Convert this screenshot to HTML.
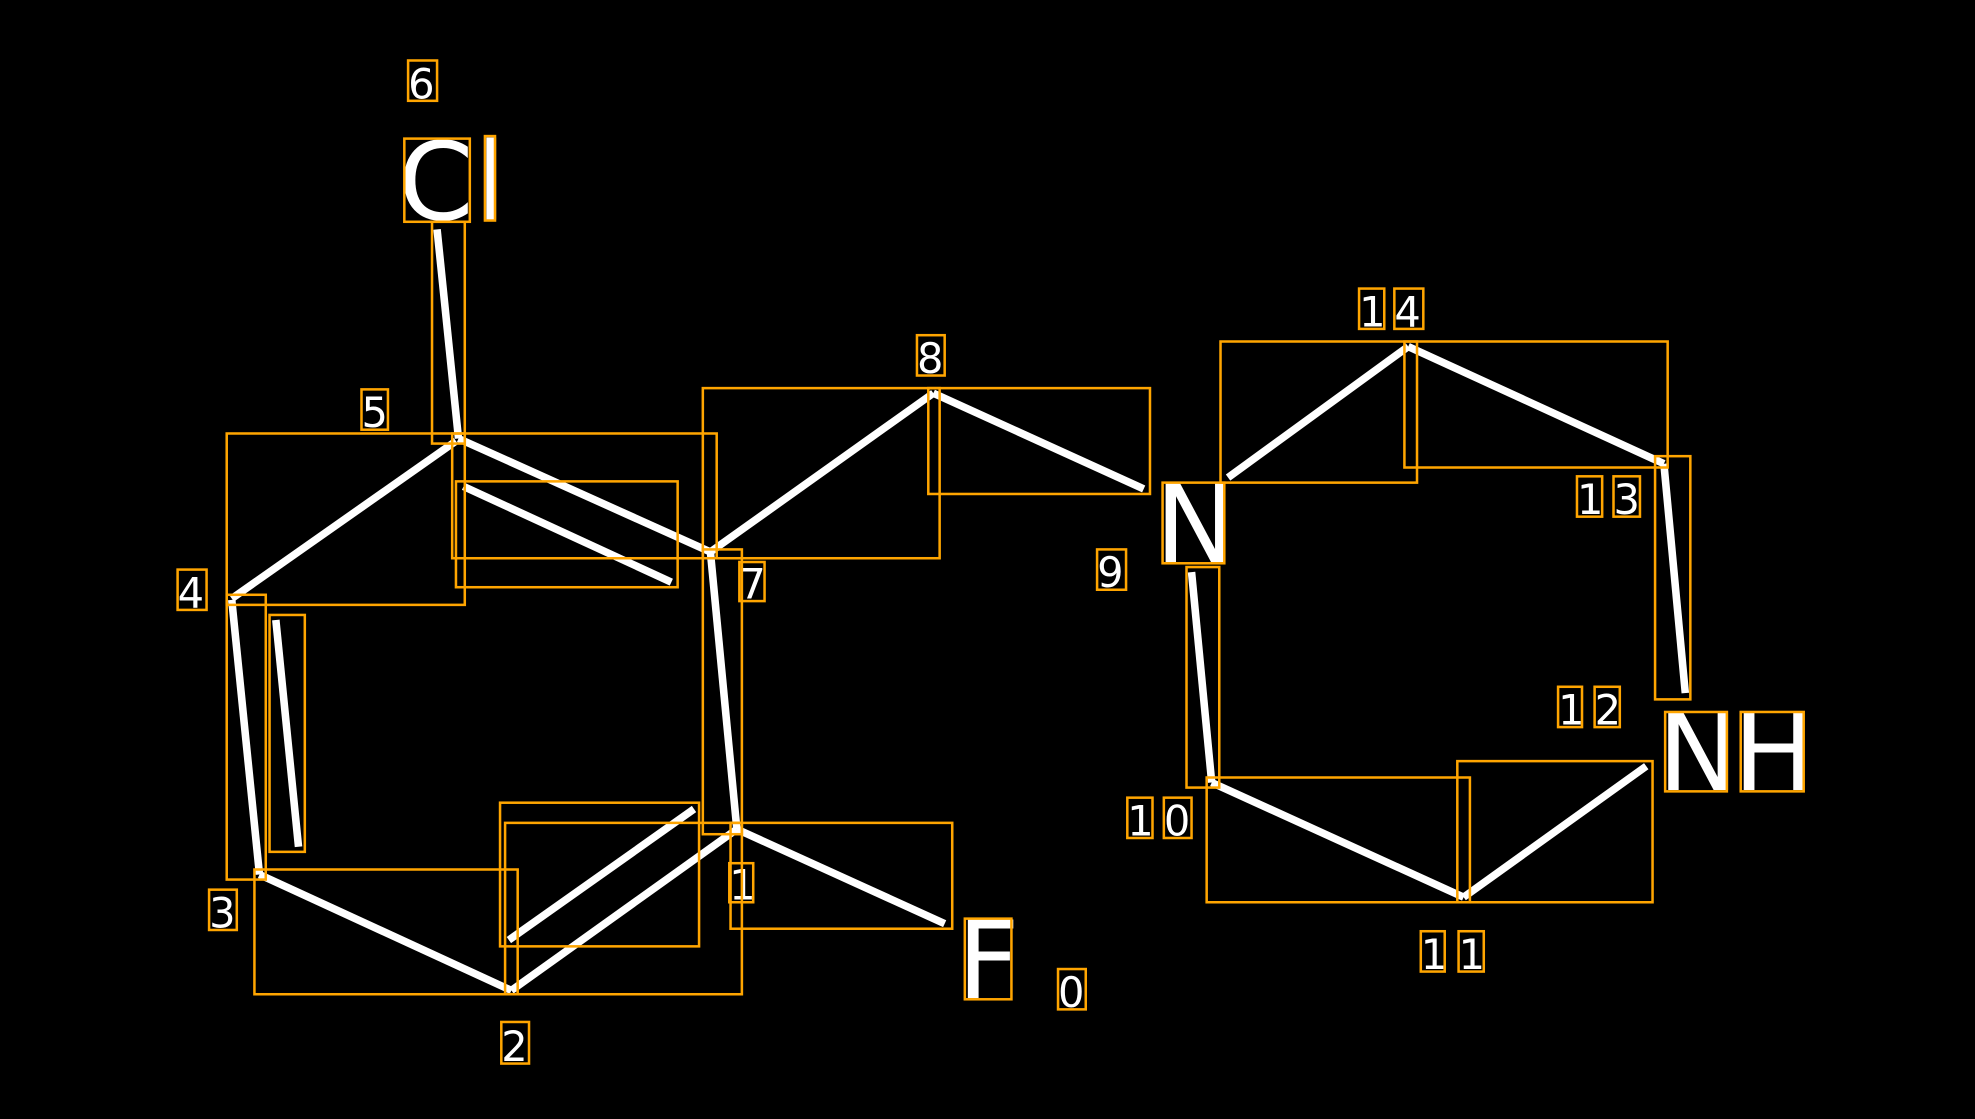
<!DOCTYPE html>
<html><head><meta charset="utf-8"><style>
html,body{margin:0;padding:0;background:#000;width:1975px;height:1119px;overflow:hidden}
svg{display:block}
text{font-family:"DejaVu Sans","Liberation Sans",sans-serif;fill:#fff}
</style></head><body>
<svg width="1975" height="1119" viewBox="0 0 1568 888" preserveAspectRatio="none">
<rect x="0" y="0" width="1568" height="888" fill="#000"/>
<g stroke="#fff" stroke-width="6" stroke-linecap="butt">
<line x1="347" y1="182" x2="364" y2="348"/>
<line x1="362" y1="350" x2="184" y2="475"/>
<line x1="364" y1="348" x2="564" y2="438"/>
<line x1="368" y1="386" x2="533" y2="462"/>
<line x1="184" y1="476" x2="206" y2="694"/>
<line x1="219" y1="492" x2="237" y2="672"/>
<line x1="206" y1="694" x2="406" y2="786"/>
<line x1="406" y1="786" x2="585" y2="658"/>
<line x1="404" y1="746" x2="551" y2="642"/>
<line x1="585" y1="658" x2="564" y2="438"/>
<line x1="585" y1="658" x2="750" y2="733"/>
<line x1="564" y1="438" x2="741" y2="312"/>
<line x1="741" y1="312" x2="908" y2="388"/>
<line x1="975" y1="379" x2="1118" y2="275"/>
<line x1="1118" y1="275" x2="1321" y2="368"/>
<line x1="1321" y1="368" x2="1338" y2="550"/>
<line x1="1307" y1="608" x2="1162" y2="712"/>
<line x1="1162" y1="712" x2="962" y2="621"/>
<line x1="962" y1="621" x2="946" y2="454"/>
</g>
<g font-size="33">
<text x="324" y="78">6</text>
<text x="287" y="339">5</text>
<text x="141" y="482">4</text>
<text x="166" y="736">3</text>
<text x="398" y="842">2</text>
<text x="579" y="714">1</text>
<text x="587" y="475">7</text>
<text x="728" y="296">8</text>
<text x="871" y="466">9</text>
<text x="840" y="799">0</text>
<text x="895" y="663">1</text><text x="924" y="663">0</text>
<text x="1128" y="769">1</text><text x="1158" y="769">1</text>
<text x="1237" y="575">1</text><text x="1266" y="575">2</text>
<text x="1252" y="408">1</text><text x="1281" y="408">3</text>
<text x="1079" y="259">1</text><text x="1107" y="259">4</text>
</g>
<g font-size="86">
<text x="316" y="174">C</text><text x="378" y="174">l</text>
<text x="917" y="446">N</text>
<text x="760" y="792">F</text>
<text x="1316" y="627">N</text><text x="1376" y="627">H</text>
</g>
<g fill="none" stroke="#FFA500" stroke-width="2">
<rect x="321" y="110" width="52" height="66"/>
<rect x="385" y="108" width="8" height="67"/>
<rect x="923" y="383" width="49" height="64"/>
<rect x="766" y="729" width="37" height="64"/>
<rect x="1322" y="565" width="49" height="63"/>
<rect x="1382" y="565" width="50" height="63"/>
<rect x="180" y="344" width="189" height="136"/>
<rect x="359" y="344" width="210" height="99"/>
<rect x="362" y="382" width="176" height="84"/>
<rect x="343" y="176" width="26" height="176"/>
<rect x="180" y="472" width="31" height="226"/>
<rect x="214" y="488" width="28" height="188"/>
<rect x="202" y="690" width="209" height="99"/>
<rect x="397" y="637" width="158" height="114"/>
<rect x="401" y="653" width="188" height="136"/>
<rect x="558" y="436" width="31" height="226"/>
<rect x="580" y="653" width="176" height="84"/>
<rect x="558" y="308" width="188" height="135"/>
<rect x="737" y="308" width="176" height="84"/>
<rect x="969" y="271" width="156" height="112"/>
<rect x="1115" y="271" width="209" height="100"/>
<rect x="1314" y="362" width="28" height="193"/>
<rect x="1157" y="604" width="155" height="112"/>
<rect x="958" y="617" width="209" height="99"/>
<rect x="942" y="450" width="26" height="175"/>
<rect x="324" y="48" width="23" height="32"/>
<rect x="287" y="309" width="21" height="32"/>
<rect x="141" y="452" width="23" height="32"/>
<rect x="166" y="706" width="22" height="32"/>
<rect x="398" y="811" width="22" height="33"/>
<rect x="579" y="685" width="19" height="31"/>
<rect x="587" y="446" width="20" height="31"/>
<rect x="728" y="266" width="22" height="32"/>
<rect x="871" y="436" width="23" height="32"/>
<rect x="840" y="769" width="22" height="32"/>
<rect x="895" y="633" width="20" height="32"/><rect x="924" y="633" width="22" height="32"/>
<rect x="1128" y="739" width="19" height="32"/><rect x="1158" y="739" width="20" height="32"/>
<rect x="1237" y="545" width="19" height="32"/><rect x="1266" y="545" width="20" height="32"/>
<rect x="1252" y="378" width="20" height="32"/><rect x="1281" y="378" width="21" height="32"/>
<rect x="1079" y="229" width="20" height="32"/><rect x="1107" y="229" width="23" height="32"/>
</g>
</svg>
</body></html>
